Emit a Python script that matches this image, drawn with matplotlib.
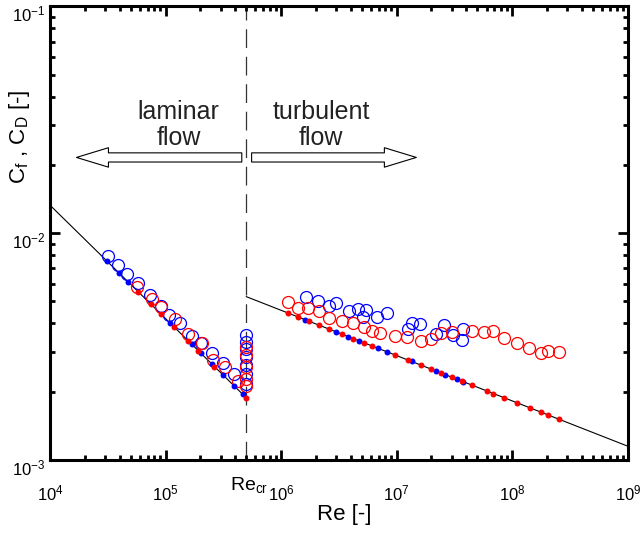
import matplotlib
matplotlib.use("Agg")
import matplotlib.pyplot as plt
import matplotlib.transforms as mtransforms

plt.rcParams['font.family'] = ['Liberation Sans', 'DejaVu Sans']
plt.rcParams['mathtext.default'] = 'regular'

# theory lines (laminar / turbulent)
lam_line_re = [1e4, 5e5]
lam_line_cf = [0.0133, 0.00188]
turb_line_re = [5e5, 1e9]
turb_line_cf = [0.00525, 0.00115]
re_cr = 5e5

# laminar data
lam_blue_dot_re = [3.13e4, 3.98e4, 4.76e4, 1.09e5, 1.68e5, 2.01e5, 2.51e5, 3.15e5, 3.91e5, 4.65e5]
lam_blue_dot_cf = [0.00751, 0.00666, 0.00609, 0.00402, 0.00324, 0.00296, 0.00265, 0.00237, 0.00212, 0.00195]
lam_red_dot_re = [5.80e4, 7.48e4, 9.07e4, 1.18e5, 1.57e5, 1.92e5, 2.64e5, 5.0e5]
lam_red_dot_cf = [0.00551, 0.00486, 0.00441, 0.00386, 0.00335, 0.00303, 0.00258, 0.00188]
lam_blue_open_re = [3.19e4, 3.90e4, 4.66e4, 5.80e4, 7.33e4, 9.07e4, 1.08e5, 1.33e5, 1.68e5, 2.02e5,
                    2.51e5, 3.16e5, 3.91e5, 5e5, 5e5, 5e5, 5e5, 5e5, 5e5, 5e5]
lam_blue_open_cf = [0.00793, 0.00722, 0.00659, 0.00602, 0.00535, 0.00478, 0.00437, 0.00400, 0.00353, 0.00327,
                    0.00296, 0.00267, 0.00240, 0.00356, 0.00330, 0.00309, 0.00284, 0.00261, 0.00240, 0.00217]
lam_red_open_re = [5.62e4, 7.58e4, 9.07e4, 1.21e5, 1.57e5, 2.05e5, 2.59e5, 3.27e5, 4.26e5,
                   5e5, 5e5, 5e5, 5e5, 5e5]
lam_red_open_cf = [0.00580, 0.00512, 0.00474, 0.00418, 0.00359, 0.00328, 0.00275, 0.00258, 0.00224,
                   0.00314, 0.00290, 0.00257, 0.00228, 0.00213]

# turbulent data
turb_red_dot_re = [1.152e6, 1.406e6, 1.74e6, 2.136e6, 2.61e6, 3.34e6, 4.21e6, 5.24e6, 6.07e6, 9.65e6,
                   1.243e7, 1.62e7, 2.00e7, 2.41e7, 2.99e7, 3.64e7, 4.50e7, 6.00e7, 6.83e7, 8.51e7,
                   1.103e8, 1.428e8, 1.768e8, 2.044e8, 2.545e8]
turb_red_dot_cf = [0.00444, 0.00427, 0.00409, 0.00393, 0.00377, 0.00359, 0.00343, 0.00328, 0.00319, 0.00291,
                   0.00276, 0.00262, 0.00251, 0.00242, 0.00232, 0.00223, 0.00214, 0.00202, 0.00196, 0.00188,
                   0.00178, 0.00169, 0.00162, 0.00158, 0.00151]
turb_blue_dot_re = [1.607e6, 2.98e6, 3.81e6, 4.71e6, 6.92e6, 8.28e6, 1.354e7, 2.18e7, 2.61e7, 3.30e7, 3.76e7]
turb_blue_dot_cf = [0.00416, 0.00368, 0.00350, 0.00335, 0.00311, 0.00300, 0.00272, 0.00247, 0.00238, 0.00227, 0.00221]
turb_red_open_re = [1.152e6, 1.389e6, 1.716e6, 2.12e6, 2.61e6, 3.34e6, 4.21e6, 5.24e6, 6.07e6, 7.16e6,
                    9.65e6, 1.218e7, 1.62e7, 2.00e7, 2.41e7, 2.99e7, 4.50e7, 5.71e7, 6.83e7, 8.51e7,
                    1.103e8, 1.40e8, 1.757e8, 2.044e8, 2.545e8]
turb_red_open_cf = [0.00495, 0.00470, 0.00470, 0.00452, 0.00423, 0.00411, 0.00402, 0.00384, 0.00372, 0.00363,
                    0.00353, 0.00350, 0.00334, 0.00342, 0.00362, 0.00365, 0.00369, 0.00365, 0.00369, 0.00345,
                    0.00328, 0.00311, 0.00297, 0.00301, 0.00300]
turb_blue_open_re = [1.639e6, 2.09e6, 2.61e6, 2.98e6, 3.86e6, 4.65e6, 5.41e6, 5.13e6, 6.78e6, 8.28e6,
                     1.258e7, 1.346e7, 1.588e7, 2.18e7, 2.56e7, 3.08e7, 3.64e7, 3.76e7]
turb_blue_open_cf = [0.00524, 0.00500, 0.00478, 0.00492, 0.00452, 0.00463, 0.00458, 0.00425, 0.00428, 0.00443,
                     0.00378, 0.00400, 0.00398, 0.00359, 0.00395, 0.00356, 0.00338, 0.00378]

fig = plt.figure(figsize=(6.4, 5.33), dpi=100)
ax = fig.add_axes([0.078, 0.137, 0.903, 0.851])

ax.plot(lam_line_re, lam_line_cf, color='black', lw=0.8, zorder=2)
ax.plot(turb_line_re, turb_line_cf, color='black', lw=0.8, zorder=2)
ax.axvline(re_cr, color='#333333', lw=0.9, dashes=(15, 7), zorder=1)

open_kw = dict(ls='none', marker='o', ms=8.6, mfc='none', mew=0.9, zorder=3)
dot_kw = dict(ls='none', marker='o', ms=4.3, mew=0, zorder=4)

ax.plot(lam_blue_open_re, lam_blue_open_cf, mec='blue', **open_kw)
ax.plot(lam_red_open_re, lam_red_open_cf, mec='red', **open_kw)
ax.plot(turb_blue_open_re, turb_blue_open_cf, mec='blue', **open_kw)
ax.plot(turb_red_open_re, turb_red_open_cf, mec='red', **open_kw)
ax.plot(lam_blue_dot_re, lam_blue_dot_cf, mfc='blue', **dot_kw)
ax.plot(turb_blue_dot_re, turb_blue_dot_cf, mfc='blue', **dot_kw)
ax.plot(lam_red_dot_re, lam_red_dot_cf, mfc='red', **dot_kw)
ax.plot(turb_red_dot_re, turb_red_dot_cf, mfc='red', **dot_kw)

ax.set_xscale('log')
ax.set_yscale('log')
ax.set_xlim(1e4, 1e9)
ax.set_ylim(1e-3, 1e-1)

for s in ax.spines.values():
    s.set_linewidth(2.2)
ax.tick_params(which='both', direction='in', top=True, right=True, width=2.0)
ax.tick_params(which='major', length=7)
ax.tick_params(which='minor', length=3.5)
ax.tick_params(axis='x', which='major', labelsize=12, pad=17)
ax.tick_params(axis='y', which='major', labelsize=12, pad=3)

# y tick labels sit a little below their ticks in the original
fig.canvas.draw()
shift = mtransforms.ScaledTranslation(0, -5 / 72, fig.dpi_scale_trans)
for lab in ax.get_yticklabels():
    lab.set_transform(lab.get_transform() + shift)

ax.set_xlabel('Re [-]', fontsize=16)
ax.xaxis.set_label_coords(0.51, -0.098)
ax.set_ylabel('C$_f$ , C$_D$ [-]', fontsize=16)
ax.yaxis.set_label_coords(-0.031, 0.713)

ax.text(5.3e5, -0.055, 'Re$_{cr}$', transform=ax.get_xaxis_transform(),
        ha='center', va='center', fontsize=14)

# flow regime arrows
arrow_kw = dict(arrowstyle='simple,head_length=1.15,head_width=0.7,tail_width=0.33',
                fc='white', ec='black', lw=0.8, shrinkA=0, shrinkB=0, mutation_scale=20)
ax.annotate('', xy=(0.046, 0.667), xytext=(0.332, 0.667), xycoords='axes fraction',
            arrowprops=arrow_kw)
ax.annotate('', xy=(0.634, 0.667), xytext=(0.349, 0.667), xycoords='axes fraction',
            arrowprops=arrow_kw)
ax.text(0.223, 0.739, 'laminar\nflow', transform=ax.transAxes, ha='center', va='center',
        fontsize=18, color='#222222', linespacing=1.1)
ax.text(0.469, 0.739, 'turbulent\nflow', transform=ax.transAxes, ha='center', va='center',
        fontsize=18, color='#222222', linespacing=1.1)

fig.savefig('out.png', dpi=100)
